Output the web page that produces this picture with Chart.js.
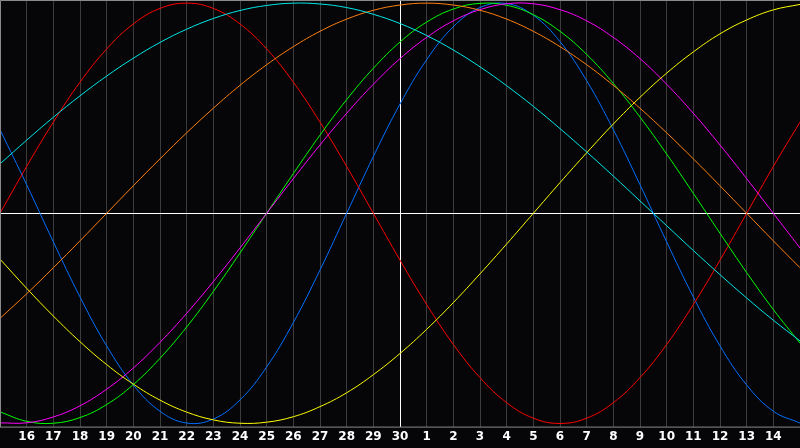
<!DOCTYPE html>
<html>
<head>
<meta charset="utf-8">
<script src="https://cdn.jsdelivr.net/npm/chart.js@4/dist/chart.umd.min.js"></script>
<style>
  html, body { margin: 0; padding: 0; background: #060609; }
  canvas { display: block; }
</style>
</head>
<body>
<canvas id="bio" width="800" height="448"></canvas>
<script>
// dias: 15 .. 30 del mes, luego 1 .. 15
const dias = ['15','16','17','18','19','20','21','22','23','24','25','26','27','28','29','30',
  '1','2','3','4','5','6','7','8','9','10','11','12','13','14','15'];

const fisico = [0.398,0.136,-0.136,-0.398,-0.631,-0.817,-0.942,-0.998,-0.979,-0.888,-0.731,-0.520,-0.270,0.000,
  0.270,0.520,0.731,0.888,0.979,0.998,0.942,0.817,0.631,0.398,0.136,-0.136,-0.398,-0.631,-0.817,-0.942,-0.998];
const emocional = [0.000,0.223,0.434,0.624,0.782,0.901,0.975,1.000,0.975,0.901,0.782,0.624,0.434,0.223,0.000,
  -0.223,-0.434,-0.624,-0.782,-0.901,-0.975,-1.000,-0.975,-0.901,-0.782,-0.624,-0.434,-0.223,0.000,0.223,0.434];
const intelectual = [-0.945,-0.990,-0.999,-0.972,-0.910,-0.815,-0.690,-0.541,-0.372,-0.189,0.000,0.189,0.372,0.541,
  0.690,0.815,0.910,0.972,0.999,0.990,0.945,0.866,0.756,0.618,0.458,0.282,0.095,-0.095,-0.282,-0.458,-0.618];
const intuitivo = [-0.997,-0.997,-0.969,-0.916,-0.837,-0.736,-0.614,-0.476,-0.325,-0.165,0.000,0.165,0.325,0.476,
  0.614,0.736,0.837,0.916,0.969,0.997,0.997,0.969,0.916,0.837,0.736,0.614,0.476,0.325,0.165,0.000,-0.165];
const estetico = [-0.218,-0.357,-0.489,-0.611,-0.720,-0.813,-0.889,-0.946,-0.983,-0.999,-0.994,-0.968,-0.920,-0.854,
  -0.768,-0.667,-0.552,-0.425,-0.288,-0.146,0.000,0.146,0.288,0.425,0.552,0.667,0.768,0.854,0.920,0.968,0.994];
const conciencia = [-0.500,-0.383,-0.259,-0.131,0.000,0.131,0.259,0.383,0.500,0.609,0.707,0.793,0.866,0.924,
  0.966,0.991,1.000,0.991,0.966,0.924,0.866,0.793,0.707,0.609,0.500,0.383,0.259,0.131,0.000,-0.131,-0.259];
const espiritual = [0.235,0.348,0.457,0.559,0.653,0.738,0.813,0.876,0.927,0.965,0.989,1.000,0.996,0.979,
  0.947,0.903,0.846,0.777,0.697,0.607,0.509,0.403,0.292,0.177,0.059,-0.059,-0.177,-0.292,-0.403,-0.509,-0.607];

const series = [
  { datos: espiritual,  color: '#00e8e8' },
  { datos: conciencia,  color: '#ff8010' },
  { datos: estetico,    color: '#ffff00' },
  { datos: intuitivo,   color: '#ff00ff' },
  { datos: intelectual, color: '#00ff00' },
  { datos: emocional,   color: '#ff0000' },
  { datos: fisico,      color: '#0070ff' }
];

// bordes grises del área
const marco = {
  id: 'marco',
  afterDraw(chart) {
    const { ctx, chartArea: a } = chart;
    ctx.save();
    ctx.strokeStyle = '#8a8a8a';
    ctx.lineWidth = 1;
    ctx.beginPath();
    ctx.moveTo(a.left + 0.5, a.bottom + 0.5);
    ctx.lineTo(a.left + 0.5, a.top + 0.5);
    ctx.lineTo(a.right, a.top + 0.5);
    ctx.moveTo(a.left, a.bottom + 0.5);
    ctx.lineTo(a.right, a.bottom + 0.5);
    ctx.stroke();
    ctx.restore();
  }
};

new Chart(document.getElementById('bio'), {
  type: 'line',
  data: {
    labels: dias,
    datasets: series.map(s => ({
      data: s.datos,
      borderColor: s.color,
      borderWidth: 1,
      pointRadius: 0,
      pointHoverRadius: 0,
      tension: 0.4,
      fill: false
    }))
  },
  options: {
    responsive: false,
    animation: false,
    layout: { padding: 0, autoPadding: false },
    plugins: { legend: { display: false }, tooltip: { enabled: false } },
    scales: {
      x: {
        offset: false,
        afterFit: s => { s.paddingLeft = 0; s.paddingRight = 0; },
        grid: {
          drawTicks: false,
          color: c => c.index === 15 ? '#ffffff' : '#3c3c3c'
        },
        border: { display: false },
        ticks: {
          autoSkip: false,
          maxRotation: 0,
          padding: 5,
          color: '#ffffff',
          font: { family: 'DejaVu Sans', size: 12, weight: 'bold', lineHeight: 0.95 },
          callback: (v, i) => (i === 0 || i === dias.length - 1) ? '' : dias[i]
        }
      },
      y: {
        min: -1.015,
        max: 1.015,
        afterBuildTicks: s => { s.ticks = [{ value: 0 }]; },
        afterFit: s => { s.width = 0; },
        grid: { drawTicks: false, color: '#ffffff' },
        border: { display: false },
        ticks: { display: false }
      }
    }
  },
  plugins: [marco]
});
</script>
</body>
</html>
